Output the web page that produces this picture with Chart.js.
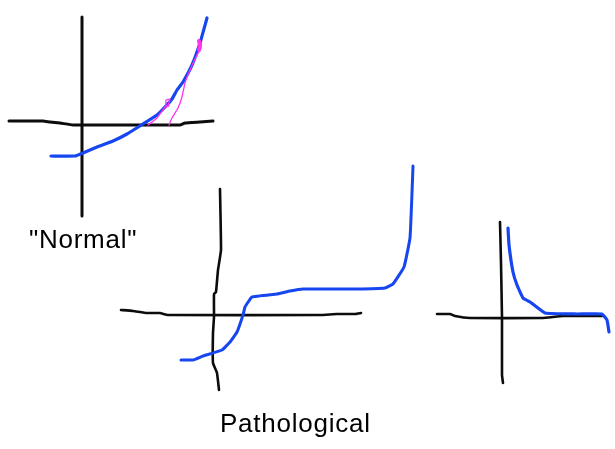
<!DOCTYPE html>
<html>
<head>
<meta charset="utf-8">
<style>
  html, body { margin: 0; padding: 0; background: #fff; }
  #wrap { position: relative; width: 615px; height: 449px; overflow: hidden; }
</style>
<script src="https://cdn.jsdelivr.net/npm/chart.js@4"></script>
</head>
<body>
<div id="wrap"><canvas id="sketch" width="615" height="449"></canvas></div>
<script>
// "Normal" sketch
let normalAxisX = [9, 43, 50, 60, 73, 100, 180, 185, 200, 213];
let normalAxisXv = [121, 121, 122, 123, 125, 125, 125, 123, 122, 121];
let normalAxisY = [82, 82];
let normalAxisYv = [17, 216];
let normalCurveX = [51, 75, 83, 97, 113, 127, 143, 157, 165, 172, 177, 183, 192, 200, 207];
let normalCurveY = [156, 156, 153, 147, 141, 134, 124, 115, 107, 99, 90, 82, 65, 43, 18];
let tangentAX = [148, 157, 165, 168, 170, 166, 166, 169];
let tangentAY = [125, 118, 107, 105, 99, 100, 107, 106];
let tangentBX = [169, 172, 178, 182, 185, 190, 197, 201, 199];
let tangentBY = [125, 118, 108, 97, 83, 70, 55, 48, 41];
let blobX = [199, 200, 199];
let blobY = [41, 45, 50];

// "Pathological" sketch, middle
let midAxisX = [121, 133, 147, 160, 168, 320, 337, 355, 361];
let midAxisXv = [310, 311, 313, 313, 315, 315, 314, 314, 313];
let midAxisY = [220, 221, 218, 216, 214, 214, 213, 213, 217, 219];
let midAxisYv = [189, 250, 270, 292, 294, 317, 333, 363, 373, 390];
let midCurveX = [181, 193, 203, 222, 230, 237, 243, 245, 252, 277, 290, 303, 357, 385, 393, 404, 410, 412, 413];
let midCurveY = [360, 360, 356, 350, 342, 332, 315, 307, 297, 294, 291, 289, 289, 288, 284, 267, 238, 193, 166];

// "Pathological" sketch, right
let rightAxisX = [437, 450, 455, 470, 542, 563, 603];
let rightAxisXv = [314, 314, 316, 318, 318, 316, 316];
let rightAxisY = [500, 501, 502, 502, 503];
let rightAxisYv = [222, 263, 318, 375, 383];
let rightCurveX = [508, 509, 513, 517, 523, 530, 545, 577, 602, 607, 609];
let rightCurveY = [228, 245, 272, 285, 298, 302, 313, 314, 314, 320, 332];

// captions
let captions = ['"Normal"', 'Pathological'];
let captionX = [29, 220];
let captionY = [248, 432];

function stroke(xs, ys, color, width){
  return {
    data: xs.map((x, i) => ({x: x, y: ys[i]})),
    borderColor: color,
    borderWidth: width,
    showLine: true,
    pointRadius: 0,
    tension: 0.1,
    borderCapStyle: 'round',
    borderJoinStyle: 'round'
  };
}

let black = '#0c0c0c';
let blue = '#1646f0';
let pink = '#ff33f0';

let captionPlugin = {
  id: 'captions',
  afterDraw(chart){
    let ctx = chart.ctx;
    ctx.save();
    ctx.fillStyle = '#000';
    ctx.font = '26px "Liberation Sans"';
    ctx.letterSpacing = '0.75px';
    ctx.textBaseline = 'alphabetic';
    captions.forEach((t, i) => {
      ctx.fillText(t, chart.scales.x.getPixelForValue(captionX[i]), chart.scales.y.getPixelForValue(captionY[i]));
    });
    ctx.restore();
  }
};

let ctx = document.getElementById('sketch').getContext('2d');
new Chart(ctx, {
  type: 'scatter',
  data: {
    // first dataset is painted last, so pink sits on top
    datasets: [
      stroke(blobX, blobY, pink, 4),
      stroke(tangentAX, tangentAY, pink, 1.3),
      stroke(tangentBX, tangentBY, pink, 1.3),
      stroke(normalCurveX, normalCurveY, blue, 3.2),
      stroke(midCurveX, midCurveY, blue, 3),
      stroke(rightCurveX, rightCurveY, blue, 3.2),
      stroke(normalAxisX, normalAxisXv, black, 3),
      stroke(normalAxisY, normalAxisYv, black, 3),
      stroke(midAxisX, midAxisXv, black, 2.6),
      stroke(midAxisY, midAxisYv, black, 2.6),
      stroke(rightAxisX, rightAxisXv, black, 2.6),
      stroke(rightAxisY, rightAxisYv, black, 2.6)
    ]
  },
  options: {
    responsive: false,
    animation: false,
    layout: { padding: 0 },
    plugins: { legend: { display: false }, tooltip: { enabled: false } },
    scales: {
      x: { type: 'linear', min: 0, max: 615, display: false },
      y: { type: 'linear', min: 0, max: 449, reverse: true, display: false }
    }
  },
  plugins: [captionPlugin]
});
</script>
</body>
</html>
